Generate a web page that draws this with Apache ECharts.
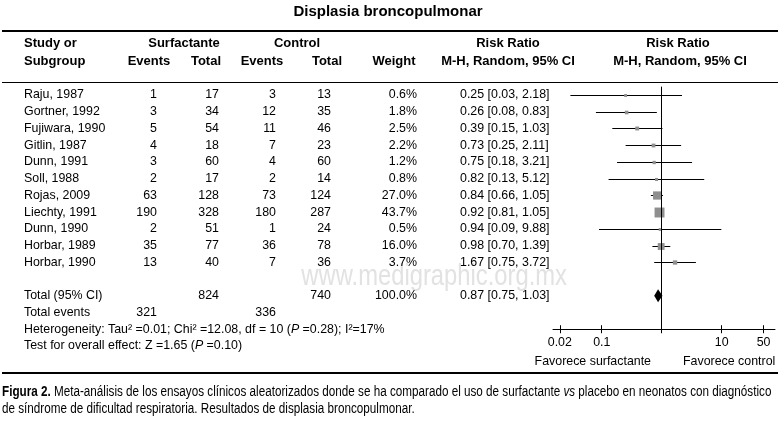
<!DOCTYPE html>
<html><head><meta charset="utf-8">
<script src="https://cdn.jsdelivr.net/npm/echarts@6/dist/echarts.min.js"></script>
<style>html,body{margin:0;padding:0;background:#fff}#c{width:778px;height:424px}</style>
</head><body><div id="c"></div>
<script>
// ---------- data ----------
const studies = ['Raju, 1987','Gortner, 1992','Fujiwara, 1990','Gitlin, 1987','Dunn, 1991','Soll, 1988','Rojas, 2009','Liechty, 1991','Dunn, 1990','Horbar, 1989','Horbar, 1990'];
const surfEvents = [1,3,5,4,3,2,63,190,2,35,13];
const surfTotal  = [17,34,54,18,60,17,128,328,51,77,40];
const ctrlEvents = [3,12,11,7,4,2,73,180,1,36,7];
const ctrlTotal  = [13,35,46,23,60,14,124,287,24,78,36];
const weights    = [0.6,1.8,2.5,2.2,1.2,0.8,27.0,43.7,0.5,16.0,3.7];
const rr         = [0.25,0.26,0.39,0.73,0.75,0.82,0.84,0.92,0.94,0.98,1.67];
const ciLow      = [0.03,0.08,0.15,0.25,0.18,0.13,0.66,0.81,0.09,0.70,0.75];
const ciHigh     = [2.18,0.83,1.03,2.11,3.21,5.12,1.05,1.05,9.88,1.39,3.72];
const totalN       = [824, 740];        // surfactante, control
const totalEvents  = [321, 336];
const totalWeight  = 100.0;
const totalEffect  = [0.87, 0.75, 1.03]; // RR, low, high
const heterogeneity = {tau2: '0.01', chi2: '12.08', df: 10, p: '0.28', i2: '17%'};
const overall = {z: '1.65', p: '0.10'};
const xTicks = [0.02, 0.1, 10, 50];
const xTickLabels = ['0.02', '0.1', '10', '50'];

// ---------- layout ----------
const FONT = '"Liberation Sans", Arial, sans-serif';
const BODY = '12.4px ' + FONT;
const ROW0 = 95, STEP = 16.73;
const COL = {study: 24, sEv: 157, sTot: 219, cEv: 276, cTot: 331, weight: 417, rr: 460};
const iTotal = 12, iEvents = 13, iHet = 14, iTest = 15;
const fmtCI = (r, l, h) => r.toFixed(2) + ' [' + l.toFixed(2) + ', ' + h.toFixed(2) + ']';

const cells = [];
studies.forEach((s, i) => {
  cells.push({x: COL.study, row: i, text: s, align: 'left'});
  cells.push({x: COL.sEv, row: i, text: String(surfEvents[i]), align: 'right'});
  cells.push({x: COL.sTot, row: i, text: String(surfTotal[i]), align: 'right'});
  cells.push({x: COL.cEv, row: i, text: String(ctrlEvents[i]), align: 'right'});
  cells.push({x: COL.cTot, row: i, text: String(ctrlTotal[i]), align: 'right'});
  cells.push({x: COL.weight, row: i, text: weights[i].toFixed(1) + '%', align: 'right'});
  cells.push({x: COL.rr, row: i, text: fmtCI(rr[i], ciLow[i], ciHigh[i]), align: 'left'});
});
cells.push({x: COL.study, row: iTotal, text: 'Total (95% CI)', align: 'left'});
cells.push({x: COL.sTot, row: iTotal, text: String(totalN[0]), align: 'right'});
cells.push({x: COL.cTot, row: iTotal, text: String(totalN[1]), align: 'right'});
cells.push({x: COL.weight, row: iTotal, text: totalWeight.toFixed(1) + '%', align: 'right'});
cells.push({x: COL.rr, row: iTotal, text: fmtCI(totalEffect[0], totalEffect[1], totalEffect[2]), align: 'left'});
cells.push({x: COL.study, row: iEvents, text: 'Total events', align: 'left'});
cells.push({x: COL.sEv, row: iEvents, text: String(totalEvents[0]), align: 'right'});
cells.push({x: COL.cEv, row: iEvents, text: String(totalEvents[1]), align: 'right'});
cells.push({x: COL.study, row: iHet, align: 'left',
  text: 'Heterogeneity: Tau² =' + heterogeneity.tau2 + '; Chi² =' + heterogeneity.chi2 + ', df = ' + heterogeneity.df + ' ({i|P} =' + heterogeneity.p + '); I²=' + heterogeneity.i2});
cells.push({x: COL.study, row: iTest, align: 'left',
  text: 'Test for overall effect: Z =' + overall.z + ' ({i|P} =' + overall.p + ')'});

const forestData = studies.map((s, i) => [rr[i], i, ciLow[i], ciHigh[i], weights[i]]);

const chart = echarts.init(document.getElementById('c'), null, {renderer: 'canvas'});
const hdr = (x, y, text, align) => ({type: 'text', x: x, y: y, style: {text: text, font: 'bold 13px ' + FONT, fill: '#000', textAlign: align || 'center', textVerticalAlign: 'middle'}});
const txt = (x, y, text, align, font) => ({type: 'text', x: x, y: y, style: {text: text, font: font || BODY, fill: '#000', textAlign: align || 'left', textVerticalAlign: 'middle'}});
const hline = (y, w) => ({type: 'line', shape: {x1: 2, y1: y, x2: 778, y2: y}, style: {stroke: '#000', lineWidth: w}});
const NARROW_SCALE = 0.835;

const logMin = 0.01538, logMax = 77.6;
const tickVals = [0.02, 0.1, 1, 10, 50];

chart.setOption({
  animation: false,
  grid: [
    {left: 0, right: 0, top: ROW0 - 0.5 * STEP, height: 16 * STEP},
    {left: 553, right: 3, top: ROW0 - 0.5 * STEP, height: 14.5 * STEP}
  ],
  xAxis: [
    {type: 'value', gridIndex: 0, min: 0, max: 778, show: false},
    {type: 'log', gridIndex: 1, logBase: 10, min: logMin, max: logMax, position: 'bottom',
      axisLine: {show: true, onZero: false, lineStyle: {color: '#000', width: 1}},
      axisTick: {show: true, customValues: tickVals, length: 4, lineStyle: {color: '#000'}},
      axisLabel: {show: true, customValues: xTicks, margin: 7, color: '#000', fontSize: 12.4, fontFamily: FONT,
        formatter: v => { const k = xTicks.findIndex(t => Math.abs(Math.log10(t) - Math.log10(v)) < 1e-6); return k >= 0 ? xTickLabels[k] : ''; }},
      splitLine: {show: false}, minorTick: {show: false}},
    {type: 'log', gridIndex: 1, logBase: 10, min: logMin, max: logMax, position: 'bottom', offset: 0,
      axisLine: {show: false, onZero: false},
      axisTick: {show: true, inside: true, customValues: tickVals, length: 4, lineStyle: {color: '#000'}},
      axisLabel: {show: false}, splitLine: {show: false}}
  ],
  yAxis: [
    {type: 'value', gridIndex: 0, inverse: true, min: -0.5, max: 15.5, show: false},
    {type: 'value', gridIndex: 1, inverse: true, min: -0.5, max: 14, show: false}
  ],
  graphic: [
    {type: 'text', z: -10, x: 567, y: 277, scaleX: 0.82, style: {text: 'www.medigraphic.org.mx', font: '29px ' + FONT, fill: '#e2e2e2', textAlign: 'right', textVerticalAlign: 'middle'}},
    {type: 'text', x: 388, y: 12, style: {text: 'Displasia broncopulmonar', font: 'bold 15px ' + FONT, fill: '#000', textAlign: 'center', textVerticalAlign: 'middle'}},
    hline(31, 2), hline(82.5, 1), hline(373, 2),
    hdr(24, 43, 'Study or', 'left'), hdr(24, 61, 'Subgroup', 'left'),
    hdr(184, 43, 'Surfactante'), hdr(149, 61, 'Events'), hdr(206, 61, 'Total'),
    hdr(297, 43, 'Control'), hdr(262, 61, 'Events'), hdr(327, 61, 'Total'),
    hdr(394, 61, 'Weight'),
    hdr(508, 43, 'Risk Ratio'), hdr(508, 61, 'M-H, Random, 95% CI'),
    hdr(678, 43, 'Risk Ratio'), hdr(680, 61, 'M-H, Random, 95% CI'),
    txt(651, 362, 'Favorece surfactante', 'right'),
    txt(683, 362, 'Favorece control', 'left'),
    {type: 'text', x: 2, y: 392, scaleX: NARROW_SCALE, style: {
      text: '{b|Figura 2.} Meta-análisis de los ensayos clínicos aleatorizados donde se ha comparado el uso de surfactante {i|vs} placebo en neonatos con diagnóstico',
      font: '14px ' + FONT, fill: '#000', textAlign: 'left', textVerticalAlign: 'middle',
      rich: {b: {fontWeight: 'bold', fontSize: 14, fontFamily: FONT, fill: '#000'}, i: {fontStyle: 'italic', fontSize: 14, fontFamily: FONT, fill: '#000'}}}},
    {type: 'text', x: 2, y: 409, scaleX: NARROW_SCALE, style: {text: 'de síndrome de dificultad respiratoria. Resultados de displasia broncopulmonar.', font: '14px ' + FONT, fill: '#000', textAlign: 'left', textVerticalAlign: 'middle'}}
  ],
  series: [
    {type: 'custom', xAxisIndex: 0, yAxisIndex: 0, clip: false, silent: true,
      data: cells.map((c, k) => [c.x, c.row, k]),
      renderItem: (params, api) => {
        const c = cells[api.value(2)];
        const p = api.coord([api.value(0), api.value(1)]);
        return {type: 'text', x: p[0], y: p[1], style: {text: c.text, font: BODY, fill: '#000',
          textAlign: c.align, textVerticalAlign: 'middle',
          rich: {i: {fontStyle: 'italic', fontSize: 12.4, fontFamily: FONT, fill: '#000'}}}};
      }},
    {type: 'custom', xAxisIndex: 1, yAxisIndex: 1, clip: false, silent: true,
      data: forestData,
      renderItem: (params, api) => {
        const c = api.coord([api.value(0), api.value(1)]);
        const lo = api.coord([api.value(2), api.value(1)]);
        const hi = api.coord([api.value(3), api.value(1)]);
        const y = Math.round(c[1]) + 0.5;
        const s = 2 + 1.2 * Math.sqrt(api.value(4));
        return {type: 'group', children: [
          {type: 'line', shape: {x1: lo[0], y1: y, x2: hi[0], y2: y}, style: {stroke: '#000', lineWidth: 1}},
          {type: 'rect', shape: {x: c[0] - s / 2, y: y - s / 2, width: s, height: s}, style: {fill: '#8f8f8f'}}
        ]};
      },
      markLine: {silent: true, symbol: 'none', label: {show: false},
        lineStyle: {color: '#000', width: 1, type: 'solid'}, data: [{xAxis: 1}]}},
    {type: 'custom', xAxisIndex: 1, yAxisIndex: 1, clip: false, silent: true,
      data: [[totalEffect[0], iTotal, totalEffect[1], totalEffect[2]]],
      renderItem: (params, api) => {
        const c = api.coord([api.value(0), api.value(1)]);
        const lo = api.coord([api.value(2), api.value(1)]);
        const hi = api.coord([api.value(3), api.value(1)]);
        const h = 6.5;
        return {type: 'polygon', shape: {points: [[lo[0], c[1]], [c[0], c[1] - h], [hi[0], c[1]], [c[0], c[1] + h]]}, style: {fill: '#000'}};
      }}
  ]
});
</script>
</body></html>
